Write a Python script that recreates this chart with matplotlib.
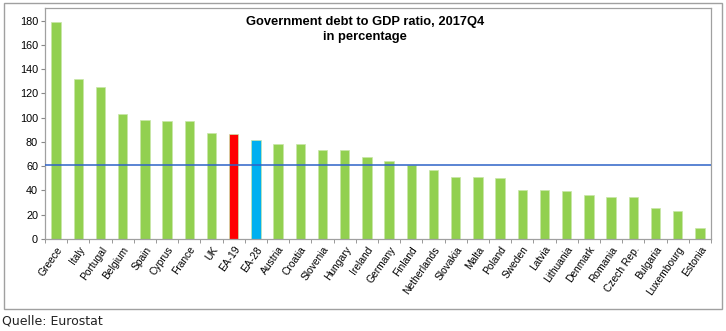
import matplotlib

matplotlib.use("Agg")
import matplotlib.pyplot as plt
import numpy as np
from matplotlib import patches

countries = [
    "Greece", "Italy", "Portugal", "Belgium", "Spain", "Cyprus", "France", "UK",
    "EA-19", "EA-28", "Austria", "Croatia", "Slovenia", "Hungary", "Ireland",
    "Germany", "Finland", "Netherlands", "Slovakia", "Malta", "Poland", "Sweden",
    "Latvia", "Lithuania", "Denmark", "Romania", "Czech Rep.", "Bulgaria",
    "Luxembourg", "Estonia",
]
debt_ratio = [
    178.6, 131.8, 125.7, 103.1, 98.3, 97.5, 97.0, 87.7,
    86.7, 81.6, 78.4, 78.0, 73.6, 73.6, 68.0,
    64.1, 61.4, 56.7, 50.9, 50.8, 50.6, 40.6,
    40.1, 39.7, 36.4, 35.0, 34.6, 25.4,
    23.0, 9.0,
]
reference_level = 61
y_ticks = [0, 20, 40, 60, 80, 100, 120, 140, 160, 180]

special_colors = {"EA-19": "#FF0000", "EA-28": "#00B0F0"}
bar_colors = [special_colors.get(name, "#92D050") for name in countries]

plt.rcParams["font.family"] = ["Liberation Sans", "DejaVu Sans"]

fig = plt.figure(figsize=(7.26, 3.31), dpi=100)
ax = fig.add_axes([45 / 726, 1 - 239 / 331, 666 / 726, 231 / 331])

x = np.arange(len(countries))
ax.bar(x, debt_ratio, width=0.42, color=bar_colors, edgecolor="#C8E6A8",
       linewidth=0.5, zorder=2)
ax.axhline(reference_level, color="#2E63C8", linewidth=1.1, zorder=3)

ax.set_xlim(-0.5, len(countries) - 0.5)
ax.set_ylim(0, 190.5)
ax.set_yticks(y_ticks)
ax.tick_params(axis="y", labelsize=7.8, length=3, color="#888888", pad=2)

ax.set_xticks(x)
ax.set_xticklabels(countries, rotation=55, ha="right", rotation_mode="anchor",
                   fontsize=7.4)
ax.tick_params(axis="x", length=0, pad=4)
ax.set_xticks(np.arange(-0.5, len(countries), 1.0), minor=True)
ax.tick_params(axis="x", which="minor", length=3, color="#888888")

for spine in ax.spines.values():
    spine.set_color("#A0A0A0")
    spine.set_linewidth(0.9)

fig.text(365 / 726, 1 - 16 / 331, "Government debt to GDP ratio, 2017Q4\nin percentage",
         ha="center", va="top", fontsize=9.3, fontweight="bold", linespacing=1.3)

fig.patches.append(patches.Rectangle(
    (4 / 726, 1 - 309 / 331), 718 / 726, 306 / 331,
    transform=fig.transFigure, fill=False, edgecolor="#A0A0A0", linewidth=1.0))

fig.text(2 / 726, 1 - 321 / 331, "Quelle: Eurostat", ha="left", va="center",
         fontsize=9, family="DejaVu Sans", color="#222222")

fig.savefig("out.png", dpi=100)
